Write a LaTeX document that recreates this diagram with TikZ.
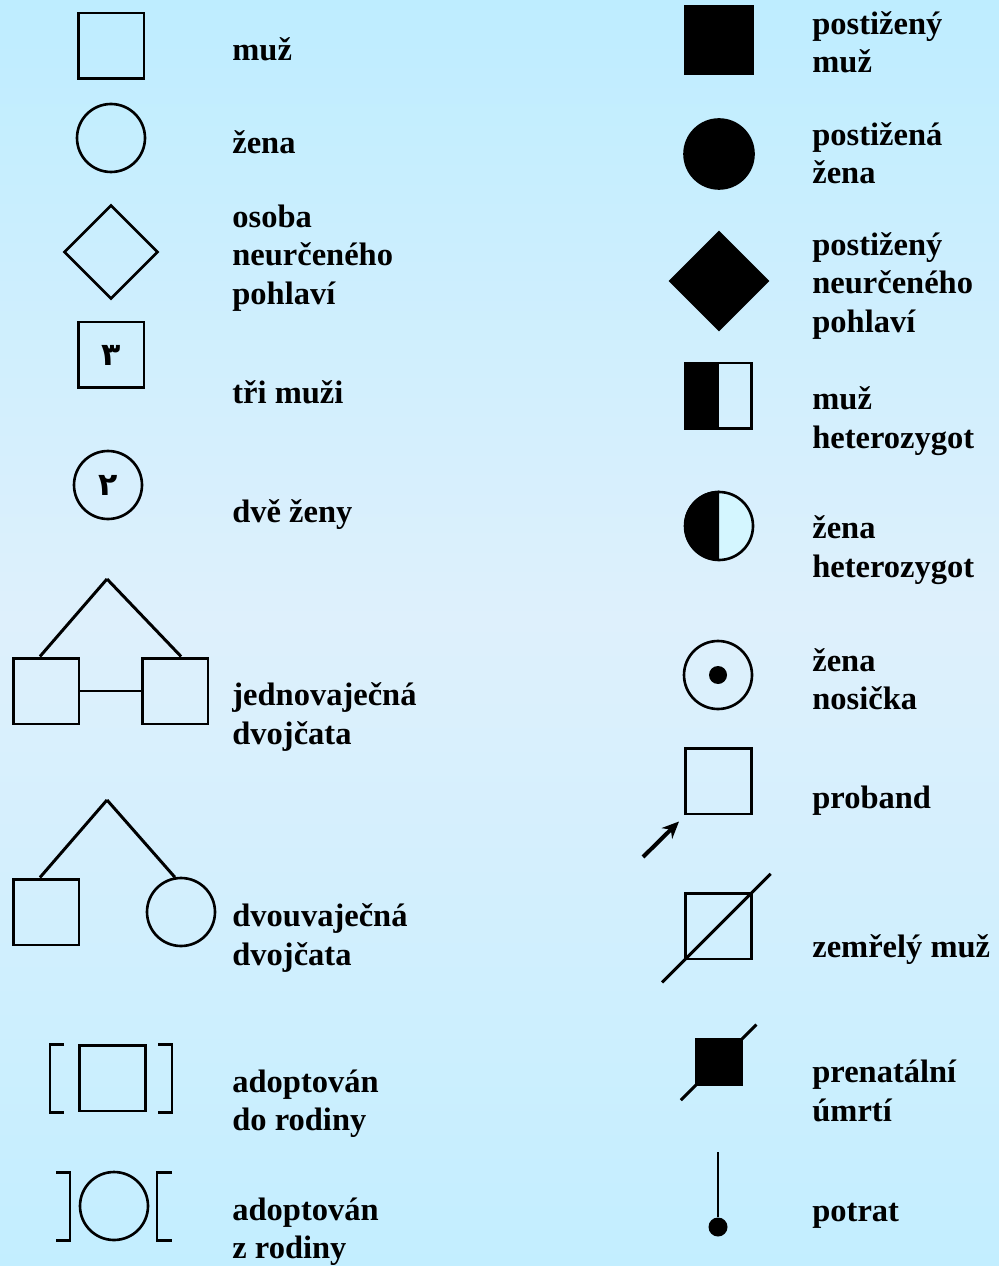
\documentclass[tikz,border=0pt]{standalone}
\usepackage{fontspec}
\setmainfont{Liberation Serif}
\newfontfamily\arabicfont[Script=Arabic]{DejaVu Sans}
\usetikzlibrary{arrows.meta, shapes.geometric, calc}
\definecolor{bgtop}{RGB}{190,237,255}
\definecolor{bgmid}{RGB}{222,240,252}
\definecolor{bgbot}{RGB}{195,238,255}
\definecolor{hetfill}{RGB}{212,246,255}
\tikzset{
  male/.style={rectangle, draw=black, line width=1.7pt,
    minimum size=1.32cm, inner sep=0pt},
  female/.style={circle, draw=black, line width=1.5pt,
    minimum size=1.36cm, inner sep=0pt},
  unknown/.style={diamond, draw=black, line width=1.5pt,
    minimum size=1.88cm, inner sep=0pt},
  affmale/.style={male, fill=black, minimum size=1.34cm},
  afffemale/.style={female, fill=black, minimum size=1.38cm},
  affunknown/.style={unknown, fill=black, minimum size=1.96cm},
  digit/.style={font=\arabicfont\fontsize{18}{22}\selectfont\bfseries},
  legtext/.style={anchor=west, align=left, inner sep=0pt,
    font=\fontsize{18.5}{21.8}\selectfont\bfseries},
  line/.style={line width=1.7pt, color=black},
  bracket/.style={line width=1.7pt, color=black},
  probarrow/.style={-{Stealth[length=0.34cm,width=0.3cm]}, line width=2.3pt}
}
\begin{document}
\begin{tikzpicture}[x=0.02cm, y=-0.02cm]
  \useasboundingbox (0,0) rectangle (999,1266);
  \shade[top color=bgtop, bottom color=bgmid]
    (0cm,0cm) rectangle (19.98cm,-12.4cm);
  \shade[top color=bgmid, bottom color=bgbot]
    (0cm,-12.4cm) rectangle (19.98cm,-25.32cm);
  % left column
  \node[male] (m1) at (111,46) {};
  \node[female] (f1) at (111,138) {};
  \node[unknown] (u1) at (111,252) {};
  \node[male, digit] (m3) at (111,355) {٣};
  \node[female, digit] (f2) at (108,485) {٢};
  \coordinate (mzapex) at (107,579);
  \node[male] (t1) at (46,691) {};
  \node[male] (t2) at (175,691) {};
  \draw[line] (mzapex) -- (t1.100);
  \draw[line] (mzapex) -- (t2.80);
  \draw[line] (t1.east) -- (t2.west);
  \coordinate (dzapex) at (107,800);
  \node[male] (d1) at (46,912) {};
  \node[female] (d2) at (181,912) {};
  \draw[line] (dzapex) -- (d1.100);
  \draw[line] (dzapex) -- (d2.100);
  \node[male] (ai) at (112.5,1078) {};
  \draw[bracket] (64,1044) -- (50,1044) -- (50,1112) -- (64,1112);
  \draw[bracket] (158,1044) -- (172,1044) -- (172,1112) -- (158,1112);
  \node[female] (ao) at (114,1206) {};
  \draw[bracket] (56,1172) -- (70,1172) -- (70,1240) -- (56,1240);
  \draw[bracket] (172,1172) -- (157,1172) -- (157,1240) -- (172,1240);
  \node[legtext] (tm1) at (232,49) {muž};
  \node[legtext] (tf1) at (232,142) {žena};
  \node[legtext] (tu1) at (232,258) {osoba\\neurčeného\\pohlaví};
  \node[legtext] (tm3) at (232,392) {tři muži};
  \node[legtext] (tf2) at (232,515) {dvě ženy};
  \node[legtext] (tmz) at (232,717) {jednovaječná\\dvojčata};
  \node[legtext] (tdz) at (232,938) {dvouvaječná\\dvojčata};
  \node[legtext] (tai) at (232,1104) {adoptován\\do rodiny};
  \node[legtext] (tao) at (232,1232) {adoptován\\z rodiny};
  % right column
  \node[affmale] (am) at (719,40) {};
  \node[afffemale] (af) at (719,154) {};
  \node[affunknown] (au) at (719,281) {};
  \node[male] (hm) at (718.5,396) {};
  \fill[black] (hm.north west) rectangle (hm.south);
  \node[female, fill=hetfill] (hf) at (719,526) {};
  \fill[black] (hf.north) arc[start angle=90, end angle=270, radius=0.7cm] -- cycle;
  \node[female] (cf) at (718,675) {};
  \fill[black] (cf.center) circle[radius=0.18cm];
  \node[male] (pb) at (718.5,781) {};
  \coordinate (pbtail) at (643,857);
  \draw[probarrow] (pbtail) -- ($(pb.south west)+(-5,6)$);
  \node[male] (dm) at (718.5,926) {};
  \draw[line, shorten <=-0.62cm, shorten >=-0.5cm] (dm.south west) -- (dm.north east);
  \node[affmale, minimum size=0.9cm] (pd) at (719,1062) {};
  \draw[line, shorten <=-0.4cm, shorten >=-0.38cm] (pd.south west) -- (pd.north east);
  \coordinate (abtop) at (718,1152);
  \node[circle, fill=black, minimum size=0.38cm, inner sep=0pt] (ab) at (718,1227) {};
  \draw[line width=1.2pt] (abtop) -- (ab);
  \node[legtext] (tam) at (812,42) {postižený\\muž};
  \node[legtext] (taf) at (812,153) {postižená\\žena};
  \node[legtext] (tau) at (812,286) {postižený\\neurčeného\\pohlaví};
  \node[legtext] (thm) at (812,421) {muž\\heterozygot};
  \node[legtext] (thf) at (812,550) {žena\\heterozygot};
  \node[legtext] (tcf) at (812,679) {žena\\nosička};
  \node[legtext] (tpb) at (812,801) {proband};
  \node[legtext] (tdm) at (812,950) {zemřelý muž};
  \node[legtext] (tpd) at (812,1091) {prenatální\\úmrtí};
  \node[legtext] (tab) at (812,1216) {potrat};
\end{tikzpicture}
\end{document}
